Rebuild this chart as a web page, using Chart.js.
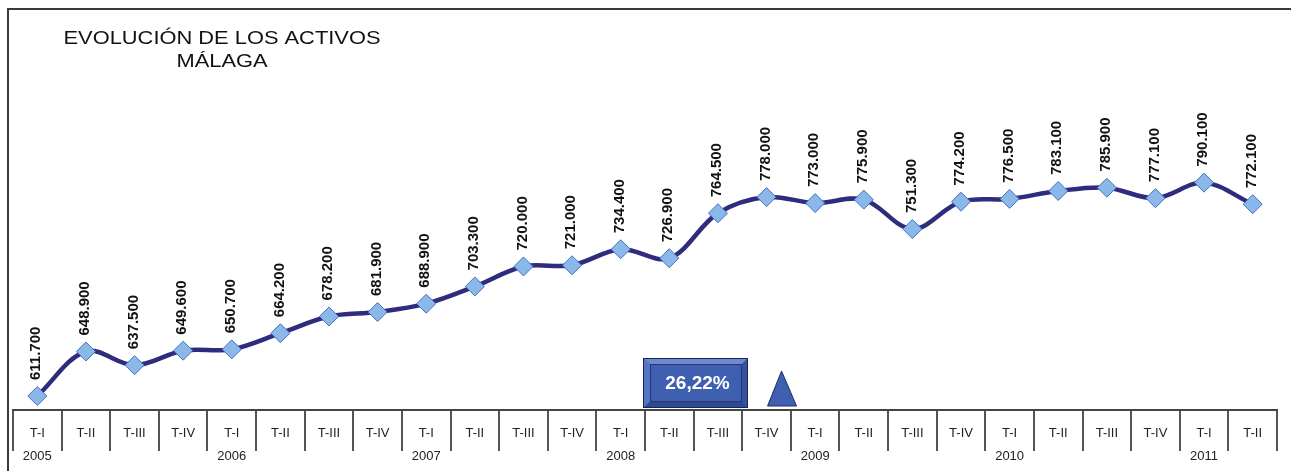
<!DOCTYPE html>
<html>
<head>
<meta charset="utf-8">
<script src="https://cdn.jsdelivr.net/npm/chart.js@4"></script>
<style>
html,body{margin:0;padding:0;background:#fff;}
#wrap{position:relative;width:1291px;height:471px;}
</style>
</head>
<body>
<div id="wrap"><canvas id="c" width="1291" height="471"></canvas></div>
<script>
const quarters = ['T-I','T-II','T-III','T-IV','T-I','T-II','T-III','T-IV','T-I','T-II','T-III','T-IV','T-I','T-II','T-III','T-IV','T-I','T-II','T-III','T-IV','T-I','T-II','T-III','T-IV','T-I','T-II'];
const years = ['2005','','','','2006','','','','2007','','','','2008','','','','2009','','','','2010','','','','2011',''];
const activos = [611700,648900,637500,649600,650700,664200,678200,681900,688900,703300,720000,721000,734400,726900,764500,778000,773000,775900,751300,774200,776500,783100,785900,777100,790100,772100];
const titleLines = ['EVOLUCIÓN DE LOS ACTIVOS','MÁLAGA'];
const variacion = '26,22%';

function fmt(v){ return String(v).replace(/\B(?=(\d{3})+(?!\d))/g,'.'); }

const decor = {
  id:'decor',
  beforeDraw(chart){
    const ctx = chart.ctx;
    ctx.save();
    ctx.fillStyle='#fff';
    ctx.fillRect(0,0,chart.width,chart.height);
    ctx.strokeStyle='#3a3a3a';
    ctx.lineWidth=2;
    ctx.beginPath();
    ctx.moveTo(1291,9); ctx.lineTo(8,9); ctx.lineTo(8,471);
    ctx.stroke();
    ctx.fillStyle='#111';
    ctx.textAlign='center'; ctx.textBaseline='middle';
    ctx.font='19px "Liberation Sans", Arial, sans-serif';
    const ys=[38.5,61.5];
    titleLines.forEach((t,i)=>{
      ctx.save(); ctx.translate(222, ys[i]); ctx.scale(1.15,1); ctx.fillText(t,0,0); ctx.restore();
    });
    ctx.restore();
  },
  afterDatasetsDraw(chart){
    const ctx = chart.ctx;
    const meta = chart.getDatasetMeta(0);
    ctx.save();
    ctx.font='bold 15px "Liberation Sans", Arial, sans-serif';
    ctx.fillStyle='#111';
    ctx.textAlign='left'; ctx.textBaseline='middle';
    meta.data.forEach((pt,i)=>{
      ctx.save();
      ctx.translate(pt.x-1, pt.y-16);
      ctx.rotate(-Math.PI/2);
      ctx.fillText(fmt(activos[i]),0,0);
      ctx.restore();
    });
    const xs = chart.scales.x;
    const bl = (xs.getPixelForValue(12)+xs.getPixelForValue(13))/2 - 2;
    const br = bl + 105;
    const bt = 358, bb = 408;
    ctx.fillStyle='#3f5fb0';
    ctx.fillRect(bl,bt,br-bl,bb-bt);
    const inL=bl+7, inR=br-6, inT=bt+6, inB=bb-6;
    ctx.fillStyle='#6f8ad0';
    ctx.beginPath(); ctx.moveTo(bl,bt); ctx.lineTo(br,bt); ctx.lineTo(inR,inT); ctx.lineTo(inL,inT); ctx.closePath(); ctx.fill();
    ctx.fillStyle='#5574c4';
    ctx.beginPath(); ctx.moveTo(bl,bt); ctx.lineTo(inL,inT); ctx.lineTo(inL,inB); ctx.lineTo(bl,bb); ctx.closePath(); ctx.fill();
    ctx.fillStyle='#2d4a94';
    ctx.beginPath(); ctx.moveTo(bl,bb); ctx.lineTo(inL,inB); ctx.lineTo(inR,inB); ctx.lineTo(br,bb); ctx.closePath(); ctx.fill();
    ctx.fillStyle='#35529f';
    ctx.beginPath(); ctx.moveTo(br,bt); ctx.lineTo(br,bb); ctx.lineTo(inR,inB); ctx.lineTo(inR,inT); ctx.closePath(); ctx.fill();
    ctx.strokeStyle='#1a2450'; ctx.lineWidth=1;
    ctx.strokeRect(bl+0.5,bt+0.5,br-bl-1,bb-bt-1);
    ctx.strokeStyle='#24386f';
    ctx.strokeRect(inL+0.5,inT+0.5,inR-inL-1,inB-inT-1);
    ctx.fillStyle='#fff';
    ctx.font='bold 19px "Liberation Sans", Arial, sans-serif';
    ctx.textAlign='center';
    ctx.fillText(variacion,(bl+br)/2+2,(bt+bb)/2+1);
    const tx = xs.getPixelForValue(15)+15;
    ctx.fillStyle='#3f5fb0';
    ctx.strokeStyle='#1f2f66'; ctx.lineWidth=1;
    ctx.beginPath(); ctx.moveTo(tx,371); ctx.lineTo(tx+15,406); ctx.lineTo(tx-14,406); ctx.closePath();
    ctx.fill(); ctx.stroke();
    ctx.restore();
  }
};

new Chart(document.getElementById('c'),{
  type:'line',
  data:{
    labels: quarters.map((q,i)=>[q, years[i]]),
    datasets:[{
      data: activos.map(v=>v/1000),
      borderColor:'#2f2c7e',
      borderWidth:4.5,
      tension:0.35,
      pointStyle:'rectRot',
      pointRadius:9.5,
      pointHoverRadius:9.5,
      pointBackgroundColor:'#8ab8e8',
      pointBorderColor:'#4a70c0',
      pointBorderWidth:1,
      clip:false
    }]
  },
  options:{
    responsive:false,
    animation:false,
    events:[],
    layout:{padding:{left:13,right:14,top:111,bottom:0}},
    plugins:{legend:{display:false},tooltip:{enabled:false},title:{display:false}},
    scales:{
      y:{display:false,min:600,max:850},
      x:{
        offset:true,
        afterFit(scale){ scale.height = 61; },
        border:{display:true,color:'#444',width:2},
        grid:{offset:true,drawOnChartArea:false,drawTicks:true,tickLength:41,color:'#555',lineWidth:2},
        ticks:{
          color:'#222',
          padding:-29.5,
          maxRotation:0,autoSkip:false,
          font:{family:'"Liberation Sans", Arial, sans-serif',size:13,lineHeight:1.77}
        }
      }
    }
  },
  plugins:[decor]
});
</script>
</body>
</html>
